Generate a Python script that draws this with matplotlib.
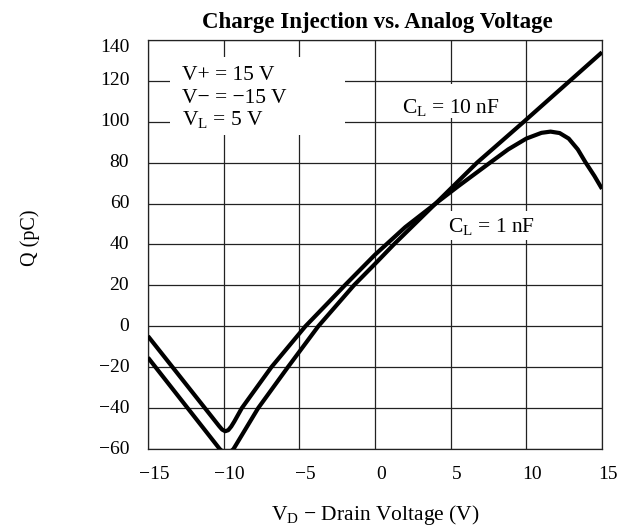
import matplotlib
matplotlib.use('Agg')
import matplotlib.pyplot as plt
import matplotlib.transforms as mtransforms
from matplotlib.patches import Rectangle

# ---- data ----
vd_1nF = [-15, -10.3, -10.1, -9.9, -9.7, -9.5, -9.3, -9.05, -8.8, -6.85, -4.6, -3.1, -2.0,
          0, 2, 4, 5.5, 7.6, 8.8, 10, 11, 11.6, 12.2, 12.8, 13.4, 13.9, 14.5, 15]
q_1nF = [-4.8, -48.8, -50.5, -51.3, -50.8, -49.0, -46.6, -43.3, -40, -20, 0, 11.5, 20,
         35, 48.5, 60, 68.5, 80, 86.5, 91.8, 94.6, 95.2, 94.5, 91.8, 86.5, 80.3, 73.5, 67.2]

vd_10nF = [-15, -10.26, -9.8, -9.35, -7.72, -5.76, -3.75, -1.4, 0, 1.24, 4, 6.74, 9.83, 12.72, 15]
q_10nF = [-15.3, -60, -63, -60, -40, -20, 0, 20, 30.5, 40, 60, 80, 100, 119, 134]

x_ticks = [-15, -10, -5, 0, 5, 10, 15]
y_ticks = [-60, -40, -20, 0, 20, 40, 60, 80, 100, 120, 140]

title = "Charge Injection vs. Analog Voltage"
xlabel = "V$_{\\mathrm{D}}$ \u2212 Drain Voltage (V)"
ylabel = "Q (pC)"
cond_lines = ["V+ = 15 V", "V\u2212 = \u221215 V", "V$_{\\mathrm{L}}$ = 5 V"]
label_10nF = "C$_{\\mathrm{L}}$ = 10 nF"
label_1nF = "C$_{\\mathrm{L}}$ = 1 nF"

# ---- style ----
plt.rcParams['font.family'] = ['Liberation Serif', 'DejaVu Serif']
plt.rcParams['mathtext.fontset'] = 'custom'
plt.rcParams['mathtext.rm'] = 'Liberation Serif'
plt.rcParams['mathtext.it'] = 'Liberation Serif:italic'
plt.rcParams['mathtext.bf'] = 'Liberation Serif:bold'
plt.rcParams['axes.unicode_minus'] = True

W, H = 627, 528
fig = plt.figure(figsize=(W / 100, H / 100), dpi=100)
fig.patch.set_facecolor('white')

def fx(px):
    return px / W

def fy(py):
    return 1 - py / H

ax = fig.add_axes([fx(148), fy(449), (602 - 148) / W, (449 - 40) / H])
ax.set_xlim(-15, 15)
ax.set_ylim(-60, 140)
ax.set_xticks(x_ticks)
ax.set_yticks(y_ticks)
ax.set_axisbelow(True)
ax.grid(True, color='#222222', linewidth=0.9)
for s in ax.spines.values():
    s.set_linewidth(0.9)
    s.set_color('#222222')
ax.tick_params(axis='both', length=0, labelsize=14, colors='black')
ax.tick_params(axis='y', pad=13.5)
ax.tick_params(axis='x', pad=12.5)

lw = 3.0
ax.plot(vd_1nF, q_1nF, color='black', linewidth=lw, solid_capstyle='butt',
        solid_joinstyle='round', zorder=3)
ax.plot(vd_10nF, q_10nF, color='black', linewidth=lw, solid_capstyle='butt',
        solid_joinstyle='round', zorder=3)

# white boxes behind annotations
for (x0, y0, x1, y1) in [(170, 57, 345, 135), (398, 84, 522, 118), (444, 211, 554, 240)]:
    r = Rectangle((fx(x0), fy(y1)), (x1 - x0) / W, (y1 - y0) / H,
                  transform=fig.transFigure, facecolor='white', edgecolor='none', zorder=1)
    ax.add_patch(r)

fs = 15.5
for txt, base in zip(cond_lines, [80, 103, 125]):
    ax.text(fx(182), fy(base), txt, transform=fig.transFigure, fontsize=fs,
            va='baseline', ha='left', zorder=4)
ax.text(fx(402), fy(113), label_10nF, transform=fig.transFigure, fontsize=fs,
        va='baseline', ha='left', zorder=4)
ax.text(fx(448), fy(232), label_1nF, transform=fig.transFigure, fontsize=fs,
        va='baseline', ha='left', zorder=4)

fig.text(fx(377), fy(28), title, fontsize=16.5, fontweight='bold', ha='center', va='baseline')
fig.text(fx(375), fy(520), xlabel, fontsize=15.5, ha='center', va='baseline')
fig.text(fx(30), fy(238), ylabel, fontsize=14.5, ha='center', va='center', rotation=90)

# small label offsets as in the reference
fig.canvas.draw()
dx = mtransforms.ScaledTranslation(6 / 100, 0, fig.dpi_scale_trans)
for lab in ax.get_xticklabels():
    lab.set_transform(lab.get_transform() + dx)
ylabs = ax.get_yticklabels()
for lab in ylabs:
    if lab.get_text().strip() in ('140',):
        off = mtransforms.ScaledTranslation(0, -6 / 100, fig.dpi_scale_trans)
    else:
        off = mtransforms.ScaledTranslation(0, 2 / 100, fig.dpi_scale_trans)
    lab.set_transform(lab.get_transform() + off)

fig.savefig('out.png', dpi=100, facecolor='white')
